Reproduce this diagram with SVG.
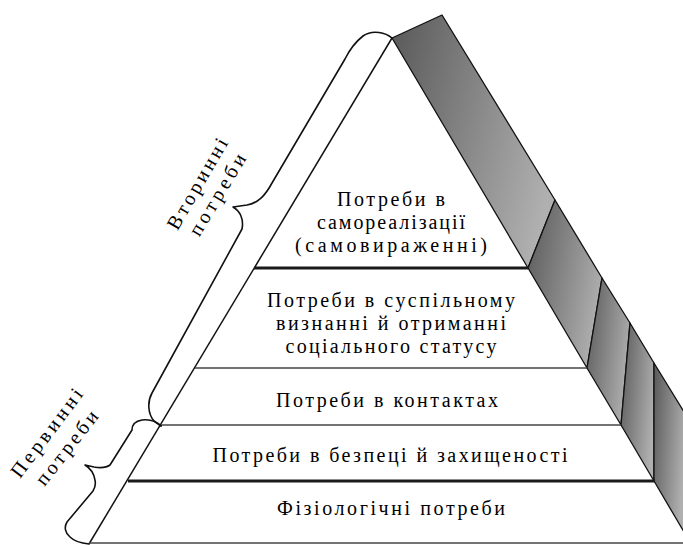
<svg xmlns="http://www.w3.org/2000/svg" width="683" height="545" viewBox="0 0 683 545">
  <defs>
    <linearGradient id="bandGrad" x1="0" y1="0.2" x2="1" y2="0.6">
      <stop offset="0" stop-color="#5e5e5e"/>
      <stop offset="1" stop-color="#b0b0b0"/>
    </linearGradient>
    <style>
      .lbl { font-family: "Liberation Serif", "DejaVu Serif", serif; font-size: 20px; fill: #000; text-anchor: middle; }
      .side { font-family: "Liberation Serif", "DejaVu Serif", serif; font-size: 20px; fill: #000; text-anchor: middle; }
      .seg { fill: url(#bandGrad); stroke: #111; stroke-width: 1.3; stroke-linejoin: round; }
      .thick { stroke: #1a1a1a; stroke-width: 3; }
      .thin { stroke: #444; stroke-width: 1.6; }
      .edge { stroke: #111; stroke-width: 1.5; fill: none; }
      .brace { stroke: #111; stroke-width: 1.6; fill: none; stroke-linejoin: round; stroke-linecap: round; }
    </style>
  </defs>
  <rect width="683" height="545" fill="#fff"/>

  <g id="band">
    <polygon class="seg" points="392,38 442,15 555,200 528,268"/>
    <polygon class="seg" points="528,268 555,200 602,278 587,368"/>
    <polygon class="seg" points="587,368 602,278 630,323 621,425"/>
    <polygon class="seg" points="621,425 630,323 654,363 654,481"/>
    <polygon class="seg" points="654,481 654,363 684,412 684,532"/>
  </g>

  <g id="pyramid">
    <line class="edge" x1="392" y1="38" x2="89" y2="544"/>
    <line class="thick" x1="254" y1="268" x2="528" y2="268"/>
    <line class="thin" x1="195" y1="368" x2="587" y2="368"/>
    <line class="thin" x1="161" y1="425" x2="621" y2="425"/>
    <line class="thick" x1="128" y1="481" x2="655" y2="481"/>
    <line class="thin" x1="89" y1="543" x2="683" y2="543"/>
  </g>

  <g id="level5">
    <text class="lbl" x="391" y="206" textLength="108" lengthAdjust="spacing">Потреби в</text>
    <text class="lbl" x="391" y="229" textLength="148" lengthAdjust="spacing">самореалізації</text>
    <text class="lbl" x="391" y="252" textLength="192" lengthAdjust="spacing">(самовираженні)</text>
  </g>
  <g id="level4">
    <text class="lbl" x="391" y="307" textLength="248" lengthAdjust="spacing">Потреби в суспільному</text>
    <text class="lbl" x="391" y="330" textLength="230" lengthAdjust="spacing">визнанні й отриманні</text>
    <text class="lbl" x="391" y="353" textLength="211" lengthAdjust="spacing">соціального статусу</text>
  </g>
  <g id="level3">
    <text class="lbl" x="387" y="407" textLength="222" lengthAdjust="spacing">Потреби в контактах</text>
  </g>
  <g id="level2">
    <text class="lbl" x="390" y="462" textLength="355" lengthAdjust="spacing">Потреби в безпеці й захищеності</text>
  </g>
  <g id="level1">
    <text class="lbl" x="391" y="515" textLength="228" lengthAdjust="spacing">Фізіологічні потреби</text>
  </g>

  <g id="secondary-label">
    <text class="side" transform="translate(203,187) rotate(-60)" textLength="102" lengthAdjust="spacing">Вторинні</text>
    <text class="side" transform="translate(223,198) rotate(-59)" textLength="92" lengthAdjust="spacing">потреби</text>
  </g>
  <g id="primary-label">
    <text class="side" transform="translate(52,437) rotate(-53)" textLength="106" lengthAdjust="spacing">Первинні</text>
    <text class="side" transform="translate(72,452) rotate(-52)" textLength="89" lengthAdjust="spacing">потреби</text>
  </g>

  <g id="connectors">
    <path class="brace" d="M392,38 C386,33 373,29 363,36 C354,43 349,51 345,59 L272,183 C265,196 258,203 247,205 L233,207 C240,211 244,219 242,229 L152,393 C147,402 148,414 154,421 L161,426"/>
    <path class="brace" d="M161,426 C156,421 149,419 142,420 C136,421 132,424 132,430 L110,465 C106,468 100,468 94,467 L85,465 C90,468 94,474 95,480 C96,485 95,488 93,491 L67,522 C64,527 65,533 70,537 C74,541 79,543 89,544"/>
  </g>
</svg>
